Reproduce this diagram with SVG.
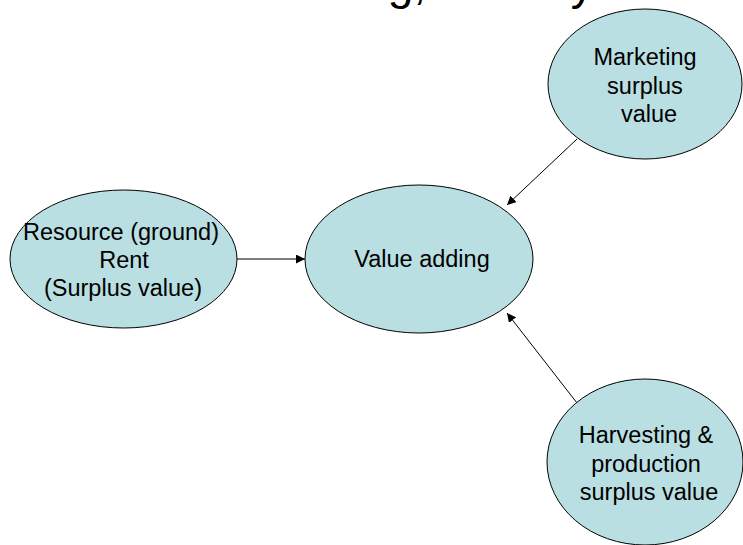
<svg xmlns="http://www.w3.org/2000/svg" width="743" height="545" viewBox="0 0 743 545">
  <style>
    .node { fill: #b9dfe2; stroke: #000; stroke-width: 1; }
    .label { font-family: "Liberation Sans", Arial, sans-serif; font-size: 23.5px; fill: #000; text-anchor: middle; }
    .title { font-family: "Liberation Sans", Arial, sans-serif; font-size: 46px; fill: #000; }
    .edge { stroke: #000; stroke-width: 1; fill: none; marker-end: url(#arrow); }
  </style>
  <defs>
    <marker id="arrow" viewBox="0 0 10 10" refX="10" refY="5" markerWidth="9" markerHeight="9" markerUnits="userSpaceOnUse" orient="auto">
      <path d="M0,0 L10,5 L0,10 z" fill="#000"/>
    </marker>
  </defs>

  <rect width="743" height="545" fill="#fff"/>

  <!-- page heading, mostly above the top edge -->
  <g id="title">
    <text class="title" x="426" y="-1" text-anchor="end">Value adding,</text>
    <text class="title" x="466" y="-1">theory</text>
  </g>

  <g id="connectors">
    <line class="edge" x1="237" y1="259" x2="305" y2="259"/>
    <line class="edge" x1="577" y1="139" x2="507" y2="205"/>
    <line class="edge" x1="577" y1="403" x2="507" y2="313"/>
  </g>

  <g id="marketing">
    <ellipse class="node" cx="645" cy="84" rx="97" ry="75"/>
    <text class="label" x="645" y="65">Marketing</text>
    <text class="label" x="645" y="94">surplus</text>
    <text class="label" x="649" y="122">value</text>
  </g>

  <g id="resource">
    <ellipse class="node" cx="123.5" cy="259" rx="113.5" ry="69"/>
    <text class="label" x="121" y="240">Resource (ground)</text>
    <text class="label" x="124" y="268">Rent</text>
    <text class="label" x="123" y="296">(Surplus value)</text>
  </g>

  <g id="value-adding">
    <ellipse class="node" cx="419" cy="259" rx="114" ry="74"/>
    <text class="label" x="422" y="267">Value adding</text>
  </g>

  <g id="harvesting">
    <ellipse class="node" cx="645" cy="462" rx="98" ry="83"/>
    <text class="label" x="646" y="443">Harvesting &amp;</text>
    <text class="label" x="646" y="472">production</text>
    <text class="label" x="649" y="500">surplus value</text>
  </g>
</svg>
